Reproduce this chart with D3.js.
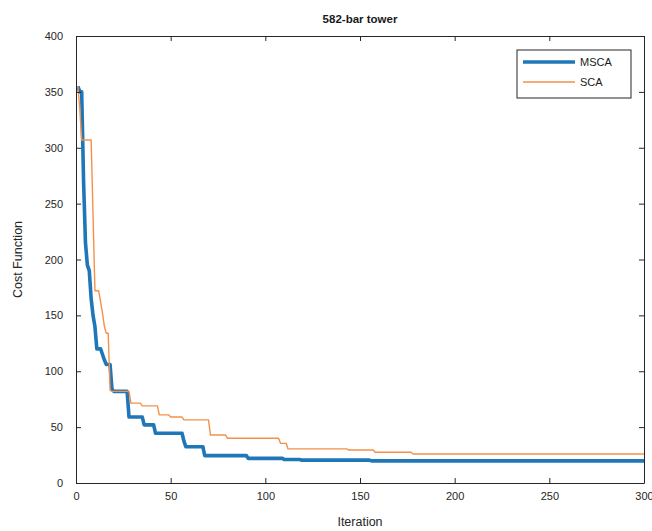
<!DOCTYPE html>
<html>
<head>
<meta charset="utf-8">
<script src="https://cdn.jsdelivr.net/npm/d3@7/dist/d3.min.js"></script>
<style>
  html, body { margin: 0; padding: 0; background: #fff; }
  svg { display: block; font-family: "Liberation Sans", Arial, Helvetica, sans-serif; }
</style>
</head>
<body>
<svg id="chart" width="652" height="531"></svg>
<script>
// Best-so-far cost per iteration, stored as change points:
// each value holds from its iteration until the next change point.
const mscaIter = [1, 2, 4, 5, 6, 7, 8, 9, 10, 11, 14, 15, 16, 19, 20, 28, 36, 42, 57, 58, 68, 91, 110, 119, 156];
const mscaCost = [355, 350, 270, 215, 195, 190, 165, 150, 140, 120, 115, 110, 106, 84, 82, 59, 52, 44.5, 37.5, 32.5, 24.5, 22, 21, 20.5, 19.8];

const scaIter = [1, 2, 3, 9, 10, 13, 14, 15, 16, 18, 19, 29, 35, 44, 50, 57, 71, 80, 108, 112, 144, 158, 178];
const scaCost = [355, 335, 307, 240, 172, 162, 152, 140, 134, 83, 82, 71.5, 69, 61, 59, 56.5, 43, 40, 35.5, 30.5, 29.5, 27.5, 26];

const maxIter = 300;
const xTicks = [0, 50, 100, 150, 200, 250, 300];
const yTicks = [0, 50, 100, 150, 200, 250, 300, 350, 400];

const seriesNames = ["MSCA", "SCA"];
const seriesColors = ["#1f77b8", "#f5904a"];
const seriesWidths = [3.6, 1.4];

const svg = d3.select("#chart");
const margin = { left: 76, right: 8, top: 36, bottom: 48 };
const W = 652, H = 531;
const x = d3.scaleLinear().domain([0, maxIter]).range([margin.left, W - margin.right]);
const y = d3.scaleLinear().domain([0, 400]).range([H - margin.bottom, margin.top]);

// Expand change points into a polyline: plateau until one step before next change.
function toPoints(iters, costs) {
  const pts = [];
  for (let j = 0; j < iters.length; j++) {
    pts.push([iters[j], costs[j]]);
    const end = j + 1 < iters.length ? iters[j + 1] - 1 : maxIter;
    if (end > iters[j]) pts.push([end, costs[j]]);
  }
  return pts;
}

const axisColor = "#262626";
const labelColor = "#262626";

// curves
const line = d3.line().x(d => x(d[0])).y(d => y(d[1]));
const seriesData = [toPoints(mscaIter, mscaCost), toPoints(scaIter, scaCost)];
seriesData.forEach((pts, i) => {
  svg.append("path")
    .datum(pts)
    .attr("d", line)
    .attr("fill", "none")
    .attr("stroke", seriesColors[i])
    .attr("stroke-width", seriesWidths[i])
    .attr("stroke-linejoin", "round");
});

// axes: ticks point inward, box on all four sides
const tickLen = 5;
const axisBottomG = svg.append("g").attr("transform", `translate(0,${y(0)})`)
  .call(d3.axisBottom(x).tickValues(xTicks).tickSizeInner(-tickLen).tickSizeOuter(0).tickPadding(9));
const axisTopG = svg.append("g").attr("transform", `translate(0,${y(400)})`)
  .call(d3.axisTop(x).tickValues(xTicks).tickSizeInner(-tickLen).tickSizeOuter(0).tickFormat(""));
const axisLeftG = svg.append("g").attr("transform", `translate(${x(0)},0)`)
  .call(d3.axisLeft(y).tickValues(yTicks).tickSizeInner(-tickLen).tickSizeOuter(0).tickPadding(13));
const axisRightG = svg.append("g").attr("transform", `translate(${x(maxIter)},0)`)
  .call(d3.axisRight(y).tickValues(yTicks).tickSizeInner(-tickLen).tickSizeOuter(0).tickFormat(""));

[axisBottomG, axisTopG, axisLeftG, axisRightG].forEach(g => {
  g.select(".domain").attr("stroke", axisColor).attr("stroke-width", 1);
  g.selectAll(".tick line").attr("stroke", axisColor).attr("stroke-width", 1);
  g.selectAll(".tick text").attr("fill", labelColor).attr("font-size", 11)
    .attr("font-family", "'Liberation Sans', Arial, sans-serif");
});

// title and axis labels
svg.append("text")
  .attr("x", (x(0) + x(maxIter)) / 2).attr("y", 23)
  .attr("text-anchor", "middle")
  .attr("font-size", 11.5).attr("font-weight", "bold").attr("fill", "#1a1a1a")
  .text("582-bar tower");

svg.append("text")
  .attr("x", (x(0) + x(maxIter)) / 2).attr("y", 526)
  .attr("text-anchor", "middle")
  .attr("font-size", 12.5).attr("fill", labelColor)
  .text("Iteration");

svg.append("text")
  .attr("transform", `translate(22,${(y(0) + y(400)) / 2}) rotate(-90)`)
  .attr("text-anchor", "middle")
  .attr("font-size", 12.5).attr("fill", labelColor)
  .text("Cost Function");

// legend
const lg = svg.append("g").attr("transform", "translate(517,50)");
lg.append("rect")
  .attr("width", 114).attr("height", 48)
  .attr("fill", "#fff").attr("stroke", axisColor).attr("stroke-width", 1);
seriesNames.forEach((name, i) => {
  const yy = 12 + i * 20;
  lg.append("line")
    .attr("x1", 6).attr("x2", 58).attr("y1", yy).attr("y2", yy)
    .attr("stroke", seriesColors[i]).attr("stroke-width", seriesWidths[i]);
  lg.append("text")
    .attr("x", 63).attr("y", yy).attr("dy", "0.35em")
    .attr("font-size", 11).attr("fill", "#1a1a1a")
    .text(name);
});
</script>
</body>
</html>
